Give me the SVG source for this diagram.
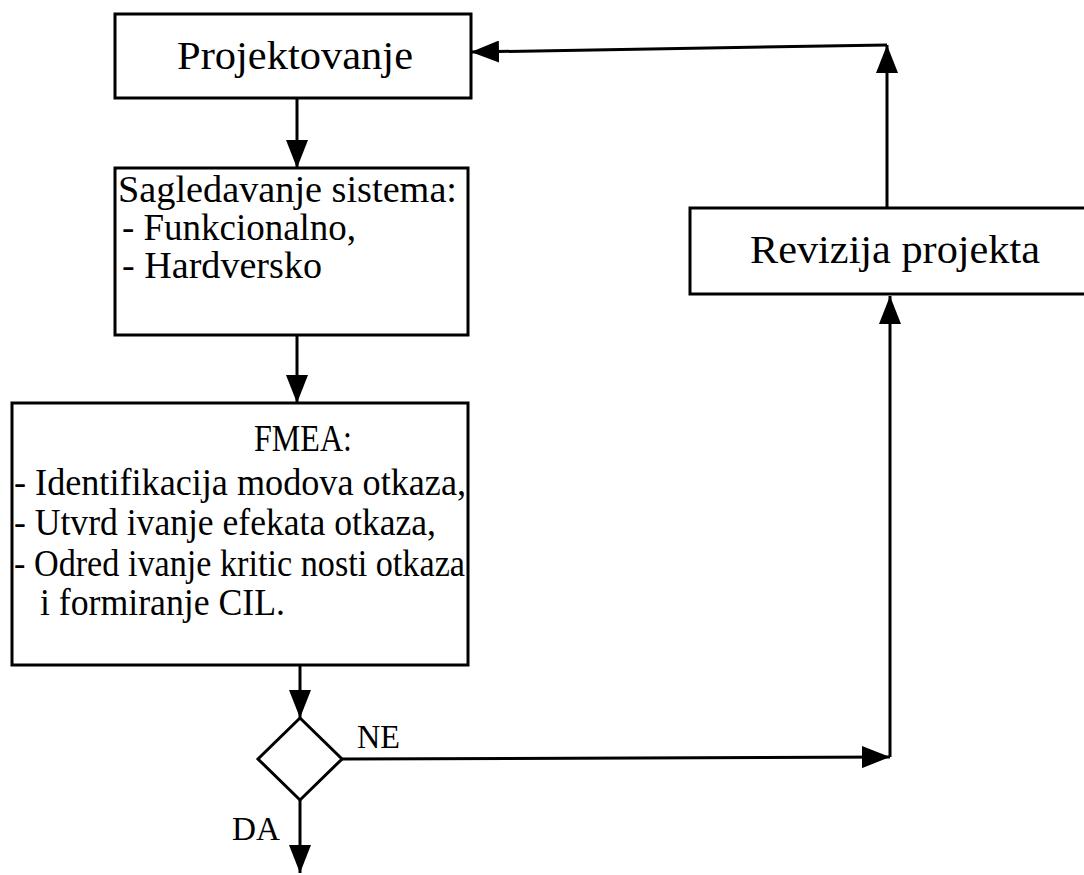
<svg xmlns="http://www.w3.org/2000/svg" width="1084" height="875" viewBox="0 0 1084 875">
  <style>
    .box { fill: #ffffff; stroke: #000000; stroke-width: 3; }
    .lbl { font-family: "Liberation Serif", "Times New Roman", serif; font-size: 38px; fill: #000000; }
    .big { font-size: 41px; }
    .small { font-size: 33px; }
    .edge { fill: none; stroke: #000000; stroke-width: 3; }
  </style>
  <defs>
    <marker id="arrow" markerUnits="userSpaceOnUse" markerWidth="30" markerHeight="22" refX="28" refY="11" orient="auto">
      <path d="M0,0 L28,11 L0,22 Z" fill="#000000"/>
    </marker>
  </defs>
  <rect width="1084" height="875" fill="#ffffff"/>

  <!-- connectors -->
  <g id="connectors">
    <path class="edge" d="M297,98 L297,168" marker-end="url(#arrow)"/>
    <path class="edge" d="M297,335 L297,403" marker-end="url(#arrow)"/>
    <path class="edge" d="M300,665 L300,718" marker-end="url(#arrow)"/>
    <path class="edge" d="M300,800 L300,873" marker-end="url(#arrow)"/>
    <path class="edge" d="M342,759 L890,757" marker-end="url(#arrow)"/>
    <path class="edge" d="M890,757 L890,296" marker-end="url(#arrow)"/>
    <path class="edge" d="M887,208 L887,45" marker-end="url(#arrow)"/>
    <path class="edge" d="M887,45 L471,52" marker-end="url(#arrow)"/>
  </g>

  <g id="projektovanje">
    <rect class="box" x="115" y="14" width="356" height="84"/>
    <text class="lbl big" x="177" y="69" textLength="236" lengthAdjust="spacingAndGlyphs">Projektovanje</text>
  </g>

  <g id="sagledavanje">
    <rect class="box" x="115" y="168" width="353" height="167"/>
    <text class="lbl" x="118" y="202" textLength="339" lengthAdjust="spacingAndGlyphs">Sagledavanje sistema:</text>
    <text class="lbl" x="122" y="240" textLength="234" lengthAdjust="spacingAndGlyphs">- Funkcionalno,</text>
    <text class="lbl" x="122" y="278" textLength="200" lengthAdjust="spacingAndGlyphs">- Hardversko</text>
  </g>

  <g id="fmea">
    <rect class="box" x="12" y="403" width="456" height="262"/>
    <text class="lbl" x="254" y="451" textLength="98" lengthAdjust="spacingAndGlyphs">FMEA:</text>
    <text class="lbl" x="14" y="495" textLength="452" lengthAdjust="spacingAndGlyphs">- Identifikacija modova otkaza,</text>
    <text class="lbl" x="14" y="535" textLength="422" lengthAdjust="spacingAndGlyphs">- Utvrd ivanje efekata otkaza,</text>
    <text class="lbl" x="14" y="576" textLength="451" lengthAdjust="spacingAndGlyphs">- Odred ivanje kritic nosti otkaza</text>
    <text class="lbl" x="40" y="615" textLength="245" lengthAdjust="spacingAndGlyphs">i formiranje CIL.</text>
  </g>

  <g id="odluka">
    <path class="box" d="M300,718 L342,759 L300,800 L258,759 Z"/>
    <text class="lbl small" x="357" y="748" textLength="43" lengthAdjust="spacingAndGlyphs">NE</text>
    <text class="lbl small" x="232" y="840" textLength="48" lengthAdjust="spacingAndGlyphs">DA</text>
  </g>

  <g id="revizija">
    <rect class="box" x="690" y="208" width="420" height="86"/>
    <text class="lbl big" x="750" y="263" textLength="290" lengthAdjust="spacingAndGlyphs">Revizija projekta</text>
  </g>
</svg>
